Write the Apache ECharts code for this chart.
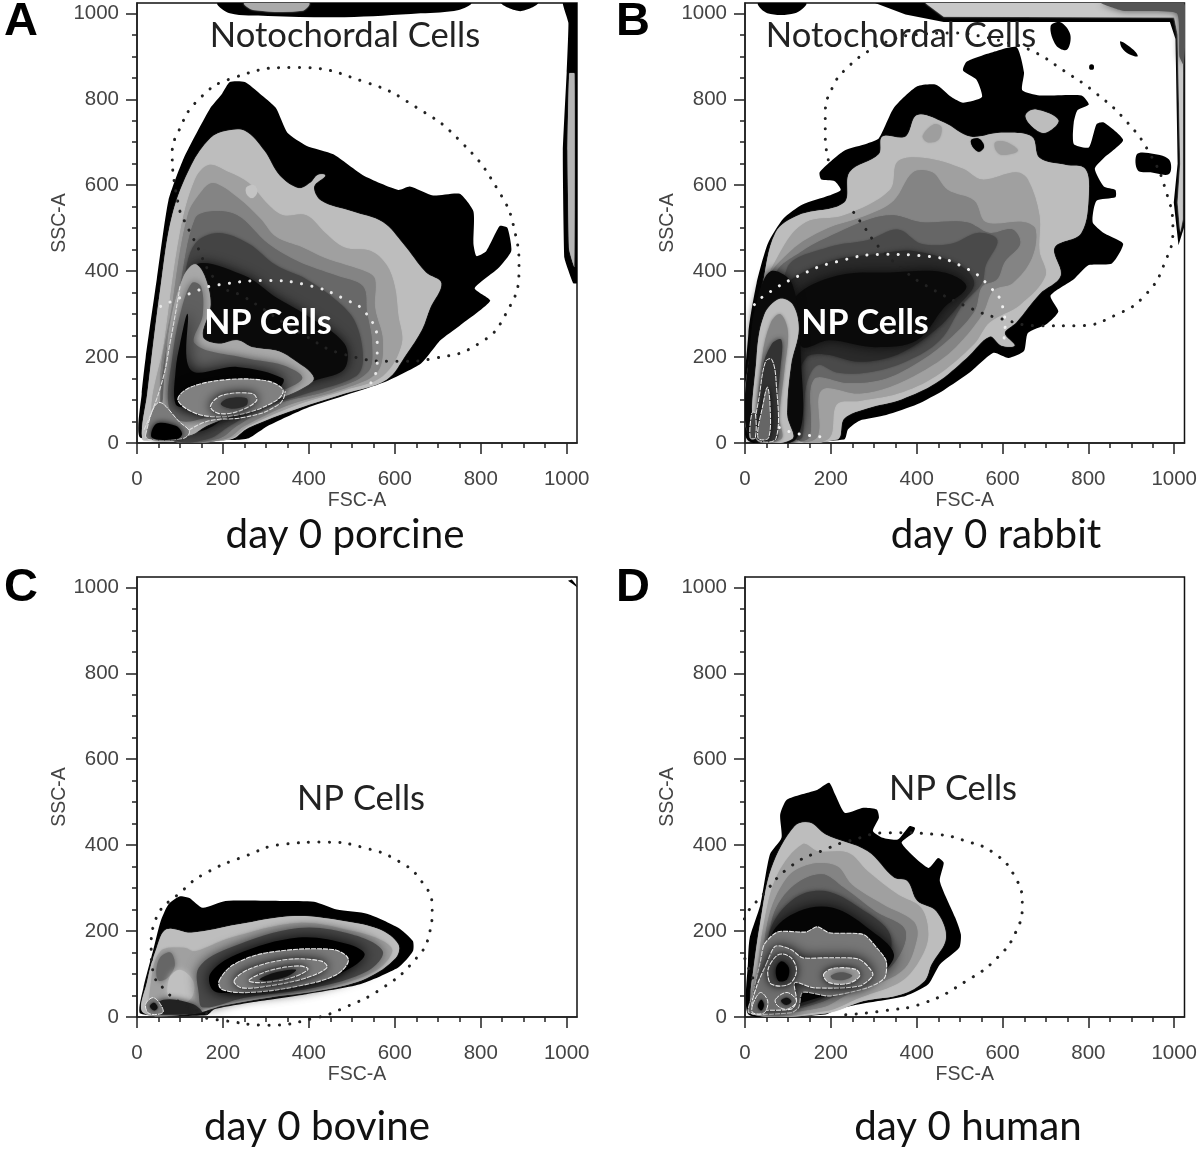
<!DOCTYPE html>
<html><head><meta charset="utf-8">
<style>html,body{margin:0;padding:0;background:#fff}#c{width:1200px;height:1152px}</style>
<script src="https://cdn.jsdelivr.net/npm/echarts@6/dist/echarts.min.js"></script>
</head><body><div id="c"></div>
<script>
const majorTicks=[0,200,400,600,800,1000];
const minorTicks=[50,100,150,250,300,350,450,500,550,650,700,750,850,900,950];
// ---- panel A (porcine)
const aBlack=[[8,12],[11,115],[20,198],[46,381],[73,564],[109,663],[171,780],[198,813],[216,840],[251,840],[286,813],[323,780],[350,722],[394,692],[457,672],[528,622],[608,589],[635,597],[689,576],[751,580],[783,539],[783,464],[790,435],[813,447],[844,505],[862,501],[871,447],[840,406],[786,360],[822,331],[751,273],[706,239],[661,185],[572,140],[394,81],[305,40],[260,11],[225,7]];
const aTop1=[[189,1024],[216,1000],[305,994],[483,991],[660,1000],[749,1008],[776,1024]];
const aTop2=[[848,1024],[892,1005],[933,1024]];
const aTopGrey=[[250,1024],[270,1008],[385,1006],[400,1024]];
const aRight=[[991,1024],[1004,978],[1000,862],[991,680],[995,430],[1015,372],[1024,372],[1024,1024]];
const aRightGrey=[[1006,860],[1002,680],[1006,450],[1018,410],[1018,860]];
const aL1=[[12,10],[24,115],[55,364],[82,530],[127,647],[171,709],[207,726],[251,726],[296,680],[332,622],[376,593],[403,605],[421,624],[438,622],[412,597],[428,564],[501,539],[572,514],[619,464],[672,397],[708,372],[682,314],[663,264],[626,206],[581,148],[483,115],[376,81],[260,36],[216,8],[37,7]];
const aL2=[[37,48],[64,239],[100,489],[135,613],[167,647],[214,630],[260,605],[305,555],[340,530],[394,530],[438,489],[483,455],[544,447],[581,414],[600,364],[608,298],[616,231],[572,156],[483,123],[376,90],[260,40],[216,10],[120,8]];
const aSpot=[[255,595],[272,600],[280,585],[268,570],[255,580]];
const aL3=[[55,115],[82,322],[118,530],[153,589],[178,605],[233,572],[287,522],[323,480],[385,455],[438,430],[537,397],[554,381],[554,314],[572,239],[559,165],[483,127],[358,90],[251,40],[207,10],[110,8]];
const aL4=[[55,115],[100,364],[135,522],[171,539],[233,530],[305,464],[376,422],[465,389],[526,364],[535,306],[547,231],[537,165],[448,123],[323,90],[233,40],[189,10],[80,8]];
const aL5=[[70,110],[110,380],[135,464],[189,489],[260,464],[323,414],[394,381],[465,331],[508,281],[526,198],[510,156],[394,115],[287,81],[216,40],[167,10],[90,8]];
const aL6=[[90,120],[120,300],[135,414],[251,389],[323,339],[394,298],[483,231],[483,173],[421,148],[260,98],[162,32],[100,30]];
const aTongue=[[20,15],[55,73],[64,156],[78,281],[109,389],[135,416],[157,389],[171,322],[153,248],[189,231],[233,239],[268,223],[323,215],[358,198],[411,152],[376,123],[287,90],[216,61],[162,40],[127,19],[90,15]];
const aTongueMid=[[73,90],[82,198],[100,298],[127,372],[149,364],[153,298],[135,231],[251,198],[340,181],[385,152],[340,123],[233,86],[153,57],[100,52]];
const aTongueDark=[[90,90],[90,170],[100,230],[118,300],[125,170],[233,177],[340,150],[325,125],[215,125],[120,85]];
const aRing1=[[95,102],[127,131],[216,148],[305,144],[340,123],[323,98],[251,69],[180,61],[127,73]];
const aRing2=[[171,86],[198,111],[269,115],[278,98],[233,73],[189,69]];
const aRing2Core=[[195,90],[210,103],[255,104],[255,88],[220,80]];
const aCorner=[[20,19],[50,94],[100,48],[122,27],[109,11],[28,8]];
const aCornerCore=[[35,12],[45,45],[90,40],[105,22],[95,10]];
const aContourLeft=[[17,32],[55,131],[78,239],[100,364]];
const aContourLow=[[122,30],[170,52],[250,60],[330,90],[345,120]];
const aGateBlack=[[100,539],[131,476],[189,372],[251,339],[394,248],[483,206],[608,190],[697,198],[795,231],[857,298],[889,406],[880,489],[840,589],[750,705],[652,780],[537,838],[367,874],[225,850],[144,800],[95,722],[82,672],[86,613],[100,539]];
const aGateWhite=[[55,318],[144,356],[189,368],[305,378],[394,368],[483,335],[536,298],[559,231],[559,181],[541,135]];
// ---- panel B (rabbit)
const bBlack=[[6,7],[8,256],[27,372],[53,464],[89,522],[134,555],[196,576],[223,589],[209,609],[178,613],[174,630],[231,680],[285,697],[312,709],[347,780],[401,830],[445,834],[481,805],[508,792],[552,805],[539,846],[508,867],[517,888],[588,913],[633,921],[650,863],[646,821],[686,809],[784,809],[801,788],[775,775],[766,746],[766,696],[801,688],[819,742],[836,746],[881,705],[836,663],[815,638],[836,597],[863,589],[863,572],[819,564],[810,514],[836,489],[881,464],[855,418],[801,414],[766,381],[712,343],[730,306],[703,277],[659,256],[650,214],[614,198],[579,210],[525,165],[463,123],[401,90],[329,65],[267,52],[240,32],[231,8]];
const bTopLeft=[[31,1024],[52,1000],[116,1000],[142,1024]];
const bBlobA=[[712,970],[735,979],[758,950],[750,915],[725,925]];
const bBlobB=[[875,935],[905,915],[915,900],[895,905],[878,920]];
const bDot=[[803,880],[812,880],[812,870],[803,870]];
const bSideBlob=[[913,672],[940,675],[988,660],[988,626],[945,630],[915,635]];
const bStrip=[[303,1024],[374,997],[463,980],[990,980],[1003,940],[1008,650],[999,560],[1010,460],[1024,505],[1024,1024]];
const bStripGrey=[[420,1024],[463,992],[1000,990],[1008,950],[1014,650],[1008,560],[1014,490],[1020,520],[1021,1024]];
const bStripDark=[[830,1024],[880,1006],[1006,1000],[1012,900],[1022,880],[1022,1024]];
const bL1=[[13,15],[18,256],[40,364],[71,489],[125,530],[231,559],[244,630],[312,672],[320,713],[374,713],[401,763],[463,746],[525,713],[597,722],[668,713],[686,663],[747,647],[792,638],[801,580],[783,489],[721,455],[735,389],[686,347],[632,281],[605,256],[628,227],[597,227],[570,248],[516,198],[445,140],[365,102],[285,81],[231,57],[214,8]];
const bBlobLight=[[654,763],[677,776],[730,751],[699,722],[668,738]];
const bSpotBlack=[[527,705],[545,708],[557,690],[545,678],[530,690]];
const bSpotGreyA=[[414,715],[440,742],[458,735],[450,705],[425,700]];
const bSpotGreyB=[[583,700],[610,700],[636,680],[600,670],[585,680]];
const bL2=[[36,322],[89,456],[142,514],[231,530],[338,589],[356,655],[419,663],[508,638],[552,613],[632,630],[659,613],[686,530],[686,447],[700,389],[641,322],[570,281],[534,231],[445,156],[356,115],[267,98],[214,90],[196,11],[125,7],[89,115],[89,239]];
const bL3=[[53,372],[107,447],[187,497],[285,530],[347,564],[392,630],[436,630],[472,589],[534,564],[561,514],[650,514],[677,497],[668,430],[623,372],[579,356],[552,298],[481,214],[410,165],[338,131],[267,115],[178,123],[169,15],[125,8],[89,198]];
const bL4=[[71,389],[134,447],[214,489],[294,522],[347,530],[410,514],[516,514],[570,489],[623,497],[641,464],[605,422],[587,381],[552,364],[534,306],[463,231],[392,181],[320,148],[240,140],[160,148],[151,15],[125,8],[98,198]];
const bL5=[[98,406],[196,456],[285,472],[356,497],[410,464],[481,464],[543,489],[588,472],[561,414],[552,372],[507,322],[454,239],[374,189],[285,164],[214,164],[169,181],[142,131],[134,15],[120,8],[98,198]];
const bL6=[[60,300],[98,372],[196,422],[303,439],[392,447],[499,414],[534,372],[499,322],[445,264],[356,206],[267,189],[187,206],[142,198],[116,115],[120,10],[60,10]];
const bL7=[[116,339],[214,389],[338,397],[463,397],[516,364],[463,314],[401,239],[303,223],[196,239],[134,223],[118,280]];
const bEdgeDark=[[10,12],[14,250],[30,340],[60,400],[110,370],[130,200],[120,12]];
const bTongue=[[26,10],[27,198],[45,298],[80,335],[111,322],[125,264],[107,181],[98,65],[110,10]];
const bTongueMid=[[32,10],[40,200],[60,280],[82,300],[100,260],[92,170],[80,60],[85,10]];
const bTongueDark=[[32,10],[40,170],[62,230],[85,240],[82,170],[72,60],[75,10]];
const bRing1=[[25,12],[35,120],[48,190],[62,195],[72,150],[72,10]];
const bRing2=[[30,12],[42,90],[52,130],[58,95],[55,12]];
const bRing3=[[12,12],[16,70],[24,70],[24,12]];
const bGateBlack=[[194,659],[187,713],[187,763],[205,830],[240,875],[289,913],[329,933],[392,950],[490,954],[552,946],[606,933],[668,913],[742,867],[819,813],[891,746],[944,672],[980,589],[997,497],[979,422],[935,347],[864,298],[775,273],[686,273],[597,289],[525,314],[419,368],[365,406],[312,456],[276,505],[240,555]];
const bGateWhite=[[22,322],[45,343],[125,389],[214,422],[329,439],[419,435],[508,410],[570,364],[601,314],[606,264],[597,223]];
const bGateWhiteLow=[[80,36],[116,23],[196,13]];
// ---- panel C (bovine)
const cBlack=[[8,8],[15,68],[37,153],[55,223],[73,262],[100,281],[122,277],[153,254],[206,270],[340,270],[412,268],[465,250],[537,240],[608,208],[642,177],[642,153],[608,115],[519,76],[394,53],[287,37],[180,18],[162,4]];
const cCornerTick=[[1003,1015],[1012,1018],[1022,1006],[1024,1000],[1014,1008]];
const cL1=[[15,10],[24,84],[46,161],[69,204],[127,196],[234,215],[367,235],[483,223],[563,204],[608,169],[602,138],[535,91],[439,64],[305,45],[198,26],[135,9]];
const cL2=[[37,14],[33,84],[55,153],[109,161],[135,153],[216,184],[376,219],[501,200],[572,177],[594,153],[554,107],[438,68],[305,49],[193,29],[130,12]];
const cLeftSpot=[[45,110],[55,140],[78,150],[88,120],[70,90],[50,85]];
const cLightBlob=[[75,40],[75,90],[100,110],[130,85],[130,50],[105,30]];
const cDark1=[[144,115],[216,161],[376,207],[501,192],[572,153],[537,107],[412,68],[251,45],[153,22],[144,53]];
const cDark2=[[170,100],[230,145],[376,185],[490,170],[530,145],[480,105],[380,75],[250,60],[180,60]];
const cRing1=[[191,84],[225,122],[305,150],[456,157],[492,134],[465,99],[376,72],[260,57],[198,64]];
const cRing2=[[226,84],[260,111],[349,134],[429,130],[442,115],[394,91],[305,72],[243,68]];
const cRing3=[[260,85],[305,107],[376,119],[398,111],[358,91],[287,80]];
const cRing3Core=[[285,88],[320,103],[370,110],[350,95],[300,84]];
const cCorner=[[20,29],[37,45],[55,29],[60,10],[28,8]];
const cCornerCore=[[30,25],[40,33],[48,22],[40,15]];
const cLowerDark=[[30,10],[62,40],[130,30],[150,10]];
const cGate=[[162,8],[109,29],[64,64],[37,107],[33,161],[42,223],[109,297],[162,336],[251,374],[340,402],[439,407],[528,394],[608,363],[662,316],[687,254],[680,192],[644,130],[572,68],[483,22],[412,-3],[305,-19],[198,-8],[162,-3]];
// ---- panel D (human)
const dBlack=[[7,130],[11,184],[36,262],[58,378],[85,417],[82,471],[98,506],[169,529],[196,545],[210,518],[233,475],[276,487],[307,483],[312,464],[298,433],[321,417],[356,413],[383,444],[396,440],[392,429],[365,405],[427,347],[450,370],[463,359],[454,316],[490,231],[503,192],[499,161],[454,122],[427,76],[374,49],[285,33],[214,18],[187,6],[9,5]];
const dL1=[[13,53],[18,99],[36,223],[62,347],[116,444],[151,452],[187,425],[285,386],[347,324],[378,316],[401,270],[445,246],[468,184],[434,122],[418,84],[365,53],[276,37],[187,8],[18,6]];
const dL2=[[27,84],[45,223],[76,332],[134,402],[169,386],[240,382],[285,340],[356,285],[410,254],[427,192],[410,138],[365,84],[267,45],[187,14],[27,10]];
const dL3=[[40,60],[53,223],[98,324],[151,355],[214,351],[249,308],[321,262],[392,223],[401,184],[365,107],[240,53],[178,22],[45,14]];
const dL4=[[50,60],[62,223],[107,300],[178,332],[231,300],[303,246],[374,200],[338,115],[231,60],[160,29],[55,14]];
const dL5=[[50,60],[58,200],[116,277],[187,293],[267,254],[338,192],[321,115],[214,60],[142,29],[45,14]];
const dL6=[[50,60],[62,192],[125,246],[205,254],[285,208],[347,146],[303,91],[196,53],[120,30],[60,14]];
const dRing1=[[45,169],[76,198],[142,198],[169,210],[196,196],[276,192],[307,161],[329,130],[325,91],[285,68],[196,49],[134,57],[125,22],[107,10],[9,10],[18,53],[36,130]];
const dRing2=[[49,122],[71,165],[107,157],[134,138],[196,138],[267,134],[298,99],[267,72],[160,68],[116,80],[120,37],[107,18],[18,22],[27,71]];
const dRing3=[[58,122],[80,146],[107,138],[120,107],[102,76],[62,76],[53,100]];
const dRing3Core=[[72,112],[85,130],[102,115],[98,88],[78,84]];
const dRing4=[[183,99],[205,113],[258,111],[267,95],[240,78],[196,80]];
const dRing4Core=[[200,96],[225,104],[250,96],[230,86],[205,88]];
const dRing5=[[18,29],[36,57],[53,37],[45,10],[18,10]];
const dRing5Core=[[30,25],[38,40],[44,28],[38,15]];
const dRing6=[[71,41],[98,57],[120,37],[98,18],[76,26]];
const dRing6Core=[[84,38],[98,45],[108,36],[96,28]];
const dGate=[[18,91],[-4,146],[-13,177],[4,239],[36,278],[107,351],[187,390],[240,409],[338,429],[445,425],[516,409],[579,382],[628,328],[646,262],[632,200],[588,138],[516,84],[418,33],[320,14],[232,5]];

const panels=[{left:137,top:3},{left:745,top:3},{left:137,top:577},{left:745,top:577}];
const side=440, tickColor='#222', textColor='#444';
const grids=[],xAxes=[],yAxes=[],series=[];
panels.forEach(p=>grids.push({left:p.left,top:p.top,width:side,height:side,show:true,borderColor:'#111',borderWidth:1.5,backgroundColor:'transparent'}));
panels.forEach(p=>grids.push({left:p.left,top:p.top,width:side,height:side,show:false}));
function axis(gridIndex,isX,minor){
  const vals=minor?minorTicks:majorTicks;
  const o={type:'value',gridIndex,min:0,max:1024,interval:200,splitLine:{show:false},
    axisLine:{show:!minor,onZero:false,lineStyle:{color:tickColor,width:1.5}},
    axisTick:{show:true,length:minor?5:11,customValues:vals,lineStyle:{color:tickColor,width:1.5}},
    axisLabel:minor?{show:false}:{show:true,customValues:majorTicks,formatter:v=>String(v),margin:isX?26:18,fontFamily:'Liberation Sans',fontSize:20.5,color:textColor}};
  if(!minor){
    o.name=isX?'FSC-A':'SSC-A';o.nameLocation='middle';o.nameGap=isX?33:66;
    o.nameTextStyle={fontFamily:'Liberation Sans',fontSize:19.5,color:textColor};
  }
  return o;
}
for(let g=0;g<8;g++){xAxes.push(axis(g,true,g>=4));yAxes.push(axis(g,false,g>=4));}

function poly(g,points,fill,opt){
  opt=opt||{};
  const style={fill:fill};
  if(opt.blur){style.shadowBlur=opt.blur;style.shadowColor=fill;}
  if(opt.stroke){style.stroke=opt.stroke;style.lineWidth=opt.lw||1.1;style.lineDash=[5,1];}
  series.push({type:'custom',xAxisIndex:g,yAxisIndex:g,coordinateSystem:'cartesian2d',silent:true,clip:true,animation:false,
    data:points,encode:{x:0,y:1},
    renderItem:function(params,api){
      if(params.dataIndex!==0)return null;
      return {type:'polygon',shape:{points:points.map(p=>api.coord(p)),smooth:opt.smooth===undefined?0.35:opt.smooth},style:style};
    }});
}
function gate(g,points,color,dash){
  series.push({type:'line',xAxisIndex:g,yAxisIndex:g,data:points,smooth:0.5,clip:false,silent:true,showSymbol:false,symbol:'none',animation:false,z:5,
    lineStyle:{color:color,width:dash?3:1.1,type:dash?[0.1,10.3]:[4,2],cap:'round'}});
}
const rim='#eee';
// Panel A
poly(0,aBlack,'#000',{smooth:0.18});poly(0,aTop1,'#000');poly(0,aTop2,'#000');poly(0,aTopGrey,'#aaa',{blur:2});poly(0,aRight,'#000',{smooth:0.1});poly(0,aRightGrey,'#b5b5b5',{blur:1,smooth:0.1});
poly(0,aL1,'#bdbdbd',{blur:1});poly(0,aL2,'#a0a0a0',{blur:1});poly(0,aSpot,'#c4c4c4',{blur:1});poly(0,aL3,'#848484',{blur:1});poly(0,aL4,'#686868',{blur:1});poly(0,aL5,'#444',{blur:3});poly(0,aL6,'#0a0a0a',{blur:12});
poly(0,aTongue,'#a8a8a8',{blur:1});poly(0,aTongueMid,'#606060',{blur:8});poly(0,aTongueDark,'#050505',{blur:16});
poly(0,aRing1,'#000',{blur:12});poly(0,aRing1,'#808080',{stroke:rim});
poly(0,aRing2,'#000',{blur:12});poly(0,aRing2,'#6c6c6c',{stroke:rim});poly(0,aRing2Core,'#2a2a2a',{blur:6});
poly(0,aCorner,'#7a7a7a',{stroke:rim,lw:1});poly(0,aCornerCore,'#000',{blur:6});
gate(0,aContourLeft,'#ddd',false);gate(0,aContourLow,'#ddd',false);
gate(0,aGateBlack,'#222',true);gate(0,aGateWhite,'#e8e8e8',true);
// Panel B
poly(1,bStrip,'#000',{smooth:0});poly(1,bStripGrey,'#c8c8c8',{blur:2,smooth:0});poly(1,bStripDark,'#555',{blur:7,smooth:0.15});
poly(1,bTopLeft,'#000');poly(1,bBlobA,'#000');poly(1,bBlobB,'#000');poly(1,bDot,'#000');poly(1,bSideBlob,'#000');
poly(1,bBlack,'#000',{smooth:0.2});poly(1,bL1,'#bdbdbd',{blur:1});poly(1,bBlobLight,'#bdbdbd',{blur:1});poly(1,bSpotBlack,'#000',{blur:1});poly(1,bSpotGreyA,'#9e9e9e',{blur:2});poly(1,bSpotGreyB,'#9e9e9e',{blur:2});
poly(1,bL2,'#a0a0a0',{blur:1});poly(1,bL3,'#848484',{blur:1});poly(1,bL4,'#666',{blur:1});poly(1,bL5,'#4a4a4a',{blur:2});poly(1,bL6,'#2a2a2a',{blur:4});poly(1,bL7,'#0a0a0a',{blur:12});
poly(1,bEdgeDark,'#0a0a0a',{blur:8});
poly(1,bTongue,'#bdbdbd',{blur:1});poly(1,bTongueMid,'#858585',{blur:3});poly(1,bTongueDark,'#333',{blur:5});
poly(1,bRing1,'#333',{stroke:rim,lw:1});poly(1,bRing2,'#000',{blur:6});poly(1,bRing2,'#666',{stroke:rim,lw:1});poly(1,bRing3,'#444',{stroke:rim,lw:1});
gate(1,bGateBlack,'#222',true);gate(1,bGateWhite,'#f0f0f0',true);gate(1,bGateWhiteLow,'#f0f0f0',true);
// Panel C
poly(2,cCornerTick,'#000',{smooth:0});
poly(2,cBlack,'#000',{smooth:0.2});poly(2,cL1,'#bdbdbd',{blur:1});poly(2,cL2,'#a0a0a0',{blur:2});poly(2,cLeftSpot,'#666',{blur:5});poly(2,cLightBlob,'#c0c0c0',{blur:6});poly(2,cLowerDark,'#222',{blur:6});
poly(2,cDark1,'#4a4a4a',{blur:12});poly(2,cDark2,'#000',{blur:16});
poly(2,cRing1,'#000',{blur:8});poly(2,cRing1,'#7a7a7a',{stroke:rim});
poly(2,cRing2,'#000',{blur:12});poly(2,cRing2,'#7a7a7a',{stroke:rim});
poly(2,cRing3,'#000',{blur:9});poly(2,cRing3,'#666',{stroke:rim});poly(2,cRing3Core,'#111',{blur:6});
poly(2,cCorner,'#777',{stroke:rim,lw:1});poly(2,cCornerCore,'#111',{blur:3});
gate(2,cGate,'#222',true);
// Panel D
poly(3,dBlack,'#000',{smooth:0.2});poly(3,dL1,'#bdbdbd',{blur:1});poly(3,dL2,'#a0a0a0',{blur:1});poly(3,dL3,'#848484',{blur:1});poly(3,dL4,'#666',{blur:1});poly(3,dL5,'#3a3a3a',{blur:4});poly(3,dL6,'#050505',{blur:14});
poly(3,dRing1,'#777',{stroke:rim,smooth:0.25});poly(3,dRing2,'#000',{blur:14,smooth:0.25});
poly(3,dRing2,'#6e6e6e',{stroke:rim,smooth:0.25});
poly(3,dRing3,'#000',{blur:10});poly(3,dRing4,'#000',{blur:9});
poly(3,dRing3,'#444',{stroke:rim});poly(3,dRing3Core,'#000',{blur:7});
poly(3,dRing4,'#999',{stroke:rim});poly(3,dRing4Core,'#555',{blur:6});
poly(3,dRing5,'#666',{stroke:rim,lw:1});poly(3,dRing5Core,'#000',{blur:3});
poly(3,dRing6,'#666',{stroke:rim,lw:1});poly(3,dRing6Core,'#111',{blur:3});
gate(3,dGate,'#222',true);

function txt(text,x,y,size,color,extra){
  return {type:'text',x:x,y:y,z:50,silent:true,style:Object.assign({text:text,x:0,y:0,align:'center',verticalAlign:'middle',fontFamily:'Lato',fontSize:size,fill:color},extra||{})};
}
const labelBold={fontFamily:'Liberation Sans',fontWeight:'bold'};
const graphic=[
 txt('A',21,22,47,'#000',labelBold),txt('B',633,22,47,'#000',labelBold),txt('C',21,588,47,'#000',labelBold),txt('D',633,588,47,'#000',labelBold),
 txt('Notochordal Cells',345,36,34.6,'#222'),txt('Notochordal Cells',901,36,34.6,'#222'),
 txt('NP Cells',268,323,34,'#fff',{fontWeight:'bold'}),txt('NP Cells',865,323,34,'#fff',{fontWeight:'bold'}),
 txt('NP Cells',361,799,34.5,'#222'),txt('NP Cells',953,789,34.5,'#222'),
 txt('day 0 porcine',345,535,40.3,'#111'),txt('day 0 rabbit',996,535,40.3,'#111'),
 txt('day 0 bovine',317,1127,40.3,'#111'),txt('day 0 human',968,1127,40.3,'#111')
];
const chart=echarts.init(document.getElementById('c'),null,{renderer:'canvas',width:1200,height:1152});
chart.setOption({animation:false,backgroundColor:'#fff',grid:grids,xAxis:xAxes,yAxis:yAxes,series:series,graphic:graphic});
</script>
</body></html>
